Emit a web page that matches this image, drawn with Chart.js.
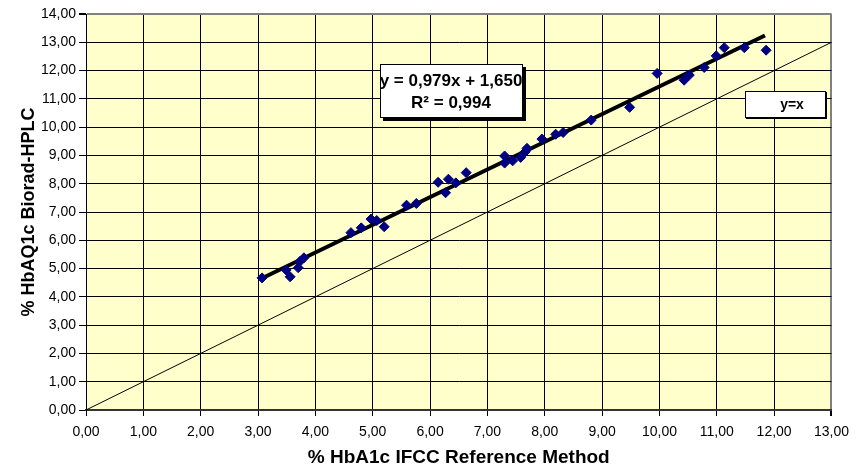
<!DOCTYPE html>
<html>
<head>
<meta charset="utf-8">
<script src="https://cdn.jsdelivr.net/npm/chart.js@4.4.1/dist/chart.umd.min.js"></script>
<style>
    html, body { margin: 0; padding: 0; background: #fff; }
    canvas { display: block; }
</style>
</head>
<body>
<canvas id="hba1c_chart" width="857" height="470"></canvas>
<script>
// IFCC reference (x) vs Biorad-HPLC (y)
let ifccValues = [3.07, 3.49, 3.56, 3.70, 3.73, 3.80, 4.62, 4.80, 4.97, 5.07, 5.20, 5.59, 5.76,
    6.14, 6.27, 6.32, 6.45, 6.63, 7.30, 7.30, 7.44, 7.58, 7.66, 7.69, 7.95, 8.19, 8.32, 8.81,
    9.48, 9.96, 10.43, 10.52, 10.78, 10.99, 11.13, 11.48, 11.86]
let hplcValues = [4.67, 4.95, 4.71, 5.03, 5.25, 5.38, 6.27, 6.44, 6.75, 6.70, 6.48, 7.24, 7.30,
    8.05, 7.68, 8.16, 8.03, 8.39, 8.98, 8.73, 8.81, 8.93, 9.13, 9.25, 9.58, 9.75, 9.81, 10.25,
    10.70, 11.90, 11.66, 11.84, 12.11, 12.52, 12.81, 12.81, 12.72]

// trend line ends and the identity line
let trendX = [3.07, 11.84]
let trendY = [4.66, 13.24]
let identityX = [0, 13]
let identityY = [0, 13]

let xTickLabels = ['0,00', '1,00', '2,00', '3,00', '4,00', '5,00', '6,00', '7,00', '8,00', '9,00',
    '10,00', '11,00', '12,00', '13,00']
let yTickLabels = ['0,00', '1,00', '2,00', '3,00', '4,00', '5,00', '6,00', '7,00', '8,00', '9,00',
    '10,00', '11,00', '12,00', '13,00', '14,00']

let equationText = 'y = 0,979x + 1,650'
let rSquaredText = 'R² = 0,994'
let identityText = 'y=x'

Chart.defaults.font.family = '"Liberation Sans", Arial, sans-serif';
Chart.defaults.color = '#000';

function toPoints(xs, ys) {
    return xs.map((x, i) => ({x: x, y: ys[i]}));
}

const plotBackground = {
    id: 'plotBackground',
    beforeDraw(chart) {
        const {ctx, chartArea: a} = chart;
        ctx.save();
        ctx.fillStyle = '#FFFFCC';
        ctx.fillRect(a.left, a.top, a.right - a.left, a.bottom - a.top);
        ctx.restore();
    },
};

function drawBox(ctx, x, y, w, h, shadow) {
    if (shadow) {
        ctx.fillStyle = '#000';
        ctx.fillRect(x + shadow, y + shadow, w, h);
    }
    ctx.fillStyle = '#fff';
    ctx.fillRect(x, y, w, h);
    ctx.strokeStyle = '#000';
    ctx.lineWidth = 1;
    ctx.strokeRect(x + 0.5, y + 0.5, w - 1, h - 1);
}

const labelBoxes = {
    id: 'labelBoxes',
    afterDraw(chart) {
        const ctx = chart.ctx;
        ctx.save();
        drawBox(ctx, 380, 64, 143, 54, 3);
        ctx.fillStyle = '#000';
        ctx.textAlign = 'center';
        ctx.textBaseline = 'middle';
        ctx.font = 'bold 17px "Liberation Sans", Arial, sans-serif';
        ctx.fillText(equationText, 451, 81);
        ctx.fillText(rSquaredText, 451, 103);

        drawBox(ctx, 745, 91, 81, 27, 1);
        ctx.fillStyle = '#000';
        ctx.font = 'bold 14px "Liberation Sans", Arial, sans-serif';
        ctx.fillText(identityText, 792, 105);
        ctx.restore();
    },
};

let ctx = document.getElementById('hba1c_chart').getContext('2d');

let myChart = new Chart(ctx, {
    type: 'scatter',
    data: {
        datasets: [
            {
                label: 'samples',
                data: toPoints(ifccValues, hplcValues),
                pointStyle: 'rectRot',
                pointRadius: 5,
                backgroundColor: '#000080',
                borderColor: '#000080',
                borderWidth: 1,
                order: 0,
            },
            {
                label: 'trend',
                data: toPoints(trendX, trendY),
                showLine: true,
                borderColor: '#000',
                borderWidth: 4,
                pointRadius: 0,
                order: 1,
            },
            {
                label: 'y=x',
                data: toPoints(identityX, identityY),
                showLine: true,
                borderColor: '#000',
                borderWidth: 1,
                pointRadius: 0,
                order: 2,
            }],
    },
    plugins: [plotBackground, labelBoxes],
    options: {
        responsive: false,
        animation: false,
        devicePixelRatio: 1,
        layout: {
            padding: {left: 0, top: 14, right: 23, bottom: 0},
        },
        plugins: {
            legend: {display: false},
            tooltip: {enabled: false},
        },
        scales: {
            x: {
                type: 'linear',
                min: 0,
                max: 13,
                afterFit: function (scale) {
                    scale.height = 60;
                },
                ticks: {
                    stepSize: 1,
                    padding: 8,
                    font: {size: 14},
                    callback: function (value, index) {
                        return xTickLabels[index];
                    },
                },
                grid: {
                    color: function (c) {
                        return c.tick && c.tick.value === 13 ? '#808080' : '#000';
                    },
                    lineWidth: function (c) {
                        return c.tick && c.tick.value === 13 ? 2 : 1;
                    },
                    tickLength: 6,
                    tickColor: '#000',
                },
                border: {color: '#333', width: 2},
                title: {
                    display: true,
                    text: '% HbA1c IFCC Reference Method',
                    font: {size: 19, weight: 'bold'},
                    padding: {top: 0, bottom: 1},
                },
            },
            y: {
                type: 'linear',
                min: 0,
                max: 14,
                afterFit: function (scale) {
                    scale.width = 86;
                },
                ticks: {
                    stepSize: 1,
                    padding: 3,
                    font: {size: 14},
                    callback: function (value, index) {
                        return yTickLabels[index];
                    },
                },
                grid: {
                    color: function (c) {
                        return c.tick && c.tick.value === 14 ? '#808080' : '#000';
                    },
                    lineWidth: function (c) {
                        return c.tick && c.tick.value === 14 ? 2 : 1;
                    },
                    tickLength: 7,
                    tickColor: '#000',
                },
                border: {color: '#000', width: 1},
                title: {
                    display: true,
                    text: '% HbAQ1c Biorad-HPLC',
                    font: {size: 18, weight: 'bold'},
                    padding: {top: 18, bottom: 0},
                },
            },
        },
    },
});
</script>
</body>
</html>
